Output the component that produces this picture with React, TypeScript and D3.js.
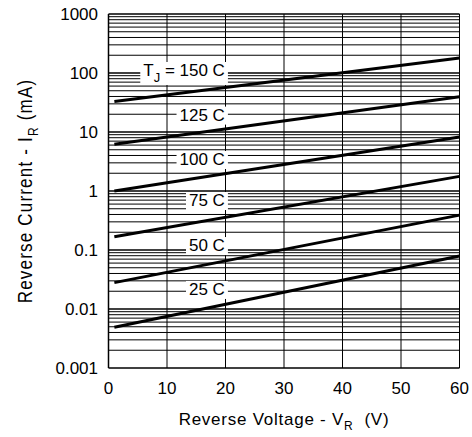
import React, { useEffect, useRef } from "react";
import * as d3 from "d3";

// Reverse voltage (V) at the two ends of each characteristic line
const voltage = [1, 60];
// Reverse current (mA) for each junction temperature
const current150 = [33, 180];
const current125 = [6.2, 39.6];
const current100 = [1.0, 8.2];
const current75 = [0.168, 1.77];
const current50 = [0.028, 0.39];
const current25 = [0.0049, 0.079];
const seriesCurrents = [current150, current125, current100, current75, current50, current25];
const seriesLabels = ["150 C", "125 C", "100 C", "75 C", "50 C", "25 C"];
// label anchor (data units): baseline current, right edge voltage
const labelCurrent = [89, 15.6, 2.76, 0.557, 0.096, 0.0173];
const labelVoltage = 19.9;

const xTicks = [0, 10, 20, 30, 40, 50, 60];
const yTicks = [0.001, 0.01, 0.1, 1, 10, 100, 1000];
const yTickLabels = ["0.001", "0.01", "0.1", "1", "10", "100", "1000"];

const FONT = "'Liberation Sans', Arial, sans-serif";

export default function App() {
  const ref = useRef<SVGSVGElement>(null);
  useEffect(() => {
    const svg = d3.select(ref.current as SVGSVGElement);
    svg.selectAll("*").remove();
    const x = d3.scaleLinear().domain([0, 60]).range([108.5, 459.5]);
    const y = d3.scaleLog().domain([0.001, 1000]).range([368, 14]);

    const grid = svg.append("g");
    // horizontal log grid
    const hVals: { v: number; major: boolean }[] = [];
    for (let n = -3; n <= 2; n++) {
      for (let k = 1; k <= 9; k++) hVals.push({ v: k * Math.pow(10, n), major: k === 1 });
    }
    hVals.push({ v: 1000, major: true });
    grid
      .selectAll("line.h")
      .data(hVals)
      .join("line")
      .attr("x1", x(0))
      .attr("x2", x(60))
      .attr("y1", (d) => y(d.v))
      .attr("y2", (d) => y(d.v))
      .attr("stroke", "#000")
      .attr("stroke-width", (d) => (d.major ? 1.7 : 1));
    // vertical grid
    grid
      .selectAll("line.v")
      .data(xTicks)
      .join("line")
      .attr("x1", (d) => x(d))
      .attr("x2", (d) => x(d))
      .attr("y1", y(0.001))
      .attr("y2", y(1000))
      .attr("stroke", "#000")
      .attr("stroke-width", (d) => (d === 0 ? 1.5 : 1));

    // labels with white boxes
    const lab = svg.append("g").attr("font-family", FONT).attr("font-size", 17).attr("fill", "#000");
    seriesLabels.forEach((s, i) => {
      const g = lab.append("g");
      const t = g
        .append("text")
        .attr("x", x(labelVoltage))
        .attr("y", y(labelCurrent[i]))
        .attr("text-anchor", "end")
        .style("white-space", "pre");
      if (i === 0) {
        t.append("tspan").text("T");
        t.append("tspan").attr("font-size", 13).attr("dy", 6).text("J");
        t.append("tspan").attr("dy", -6).text(" = " + s);
      } else {
        t.text(s);
      }
      const bb = (t.node() as SVGTextElement).getBBox();
      g.insert("rect", "text")
        .attr("x", bb.x - 3)
        .attr("y", bb.y + 1)
        .attr("width", bb.width + 6)
        .attr("height", bb.height - 1)
        .attr("fill", "#fff");
    });

    // series lines
    const line = d3
      .line<number>()
      .x((_, j) => x(voltage[j]))
      .y((d) => y(d));
    svg
      .append("g")
      .selectAll("path")
      .data(seriesCurrents)
      .join("path")
      .attr("d", (d) => line(d))
      .attr("fill", "none")
      .attr("stroke", "#000")
      .attr("stroke-width", 3);

    // tick labels
    const ticks = svg.append("g").attr("font-family", FONT).attr("font-size", 17).attr("fill", "#000");
    ticks
      .selectAll("text.y")
      .data(yTicks)
      .join("text")
      .attr("x", 98)
      .attr("y", (d) => y(d) + 6)
      .attr("text-anchor", "end")
      .text((_, i) => yTickLabels[i]);
    ticks
      .selectAll("text.x")
      .data(xTicks)
      .join("text")
      .attr("class", "x")
      .attr("x", (d) => x(d))
      .attr("y", 394)
      .attr("text-anchor", "middle")
      .text((d) => String(d));

    // x title
    const xt = svg
      .append("text")
      .attr("x", (x(0) + x(60)) / 2)
      .attr("y", 425)
      .attr("text-anchor", "middle")
      .attr("font-family", FONT)
      .attr("font-size", 17)
      .attr("letter-spacing", 0.75)
      .style("white-space", "pre");
    xt.append("tspan").text("Reverse Voltage - V");
    xt.append("tspan").attr("font-size", 12).attr("dy", 5).text("R");
    xt.append("tspan").attr("dy", -5).text("  (V)");

    // y title
    const yt = svg
      .append("text")
      .attr("transform", `translate(32,${(y(0.001) + y(1000)) / 2}) rotate(-90) scale(1,1.24)`)
      .attr("text-anchor", "middle")
      .attr("font-family", FONT)
      .attr("font-size", 17)
      .attr("letter-spacing", 1.2)
      .style("white-space", "pre");
    yt.append("tspan").text("Reverse Current - I");
    yt.append("tspan").attr("font-size", 12).attr("dy", 5).text("R");
    yt.append("tspan").attr("dy", -5).text(" (mA)");
  }, []);
  return (
    <svg
      ref={ref}
      width={472}
      height={437}
      style={{ position: "absolute", left: 0, top: 0, background: "#fff" }}
    />
  );
}
